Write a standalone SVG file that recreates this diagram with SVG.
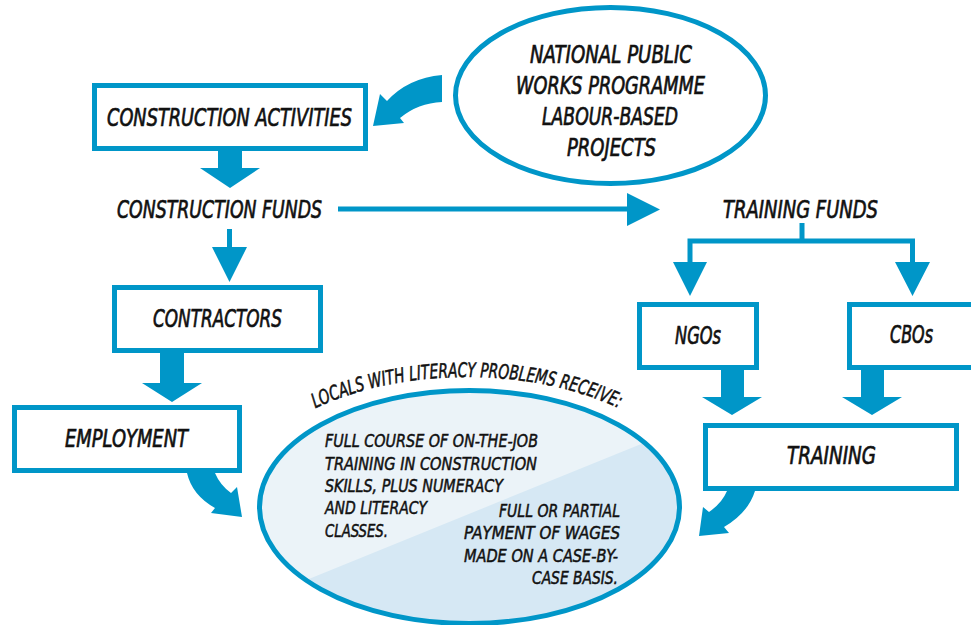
<svg xmlns="http://www.w3.org/2000/svg" width="971" height="625" viewBox="0 0 971 625">
<style>
.box{fill:#fff;stroke:#0096C8;stroke-width:5}
.ell{stroke:#0096C8;stroke-width:5}
.blue{fill:#0096C8}
.t{font-family:"Liberation Sans Narrow","DejaVu Sans Condensed","Liberation Sans",sans-serif;font-style:italic;fill:#111;stroke:#111;stroke-width:0.7;font-size:25px}
.s{font-size:18.5px;stroke-width:0.5}
.a{font-size:20px;stroke-width:0.5}
</style>
<defs>
<clipPath id="ec"><ellipse cx="469.5" cy="507" rx="210" ry="116.5"/></clipPath>
<path id="arc" d="M234,507 A233,130 0 0 1 700,507"/>
</defs>
<rect width="971" height="625" fill="#fff"/>

<g id="connectors">
  <polygon class="blue" points="218,151 242,151 242,168 260,168 230,188 200,168 218,168"/>
  <polygon class="blue" points="227,229 232,229 232,247 247,247 229.5,282 212,247 227,247"/>
  <polygon class="blue" points="160,353 184,353 184,383 202,383 172,402 142,383 160,383"/>
  <polygon class="blue" points="338,206.5 627,206.5 627,193 660,209.5 627,226 627,211.5 338,211.5"/>
  <polygon class="blue" points="799.5,223 804.5,223 804.5,238.5 915,238.5 915,262 930,262 912.5,296 895,262 910,262 910,243.5 692.5,243.5 692.5,262 707,262 690,296 673,262 687.5,262 687.5,238.5 799.5,238.5"/>
  <polygon class="blue" points="721,370 744,370 744,397 762,397 732,415 702,397 721,397"/>
  <polygon class="blue" points="861,370 884,370 884,397 902,397 872,415 842,397 861,397"/>
  <path class="blue" d="M442,75 L442,102 Q418,103 400,118 L404,123 L373,126 L380,94 L387,101 Q408,78 442,75 Z"/>
  <path class="blue" d="M187,473 Q192,495 215,508 L211,513 L242,517 L237,487 L231,493 Q220,485 215,473 Z"/>
  <path class="blue" d="M727,491 Q722,503 709,512 L703,507 L699,536 L729,533 L724,527 Q748,513 755,491 Z"/>
</g>

<g id="npwp">
  <ellipse class="ell" cx="610.5" cy="95.5" rx="155" ry="88" fill="#fff"/>
  <text class="t" x="530" y="63" textLength="162" lengthAdjust="spacingAndGlyphs">NATIONAL PUBLIC</text>
  <text class="t" x="516" y="94" textLength="189" lengthAdjust="spacingAndGlyphs">WORKS PROGRAMME</text>
  <text class="t" x="542" y="125" textLength="136" lengthAdjust="spacingAndGlyphs">LABOUR-BASED</text>
  <text class="t" x="567" y="156" textLength="89" lengthAdjust="spacingAndGlyphs">PROJECTS</text>
</g>

<g id="construction-activities">
  <rect class="box" x="94.5" y="85.5" width="271" height="63"/>
  <text class="t" x="107" y="126" textLength="245" lengthAdjust="spacingAndGlyphs">CONSTRUCTION ACTIVITIES</text>
</g>

<g id="construction-funds">
  <text class="t" x="117" y="218" textLength="205" lengthAdjust="spacingAndGlyphs">CONSTRUCTION FUNDS</text>
</g>

<g id="contractors">
  <rect class="box" x="114.5" y="287.5" width="206" height="63"/>
  <text class="t" x="153" y="327" textLength="129" lengthAdjust="spacingAndGlyphs">CONTRACTORS</text>
</g>

<g id="employment">
  <rect class="box" x="14.5" y="407.5" width="225" height="63"/>
  <text class="t" x="65" y="447" textLength="123" lengthAdjust="spacingAndGlyphs">EMPLOYMENT</text>
</g>

<g id="training-funds">
  <text class="t" x="723" y="218" textLength="155" lengthAdjust="spacingAndGlyphs">TRAINING FUNDS</text>
</g>

<g id="ngos">
  <rect class="box" x="639.5" y="304.5" width="117" height="63"/>
  <text class="t" x="675" y="344" textLength="46" lengthAdjust="spacingAndGlyphs">NGOs</text>
</g>

<g id="cbos">
  <rect class="box" x="849.5" y="304.5" width="140" height="63"/>
  <text class="t" x="890" y="343" textLength="43" lengthAdjust="spacingAndGlyphs">CBOs</text>
</g>

<g id="training">
  <rect class="box" x="705.5" y="425.5" width="251" height="63"/>
  <text class="t" x="787" y="464" textLength="89" lengthAdjust="spacingAndGlyphs">TRAINING</text>
</g>

<g id="locals">
  <g clip-path="url(#ec)">
    <rect x="250" y="380" width="450" height="250" fill="#EBF3F8"/>
    <polygon points="250,603 700,420 700,630 250,630" fill="#D6E8F4"/>
  </g>
  <ellipse class="ell" cx="469.5" cy="507" rx="210" ry="116.5" fill="none"/>
  <text class="t a"><textPath href="#arc" startOffset="50%" text-anchor="middle" textLength="312" lengthAdjust="spacingAndGlyphs">LOCALS WITH LITERACY PROBLEMS RECEIVE:</textPath></text>
  <text class="t s" x="325" y="447" textLength="213" lengthAdjust="spacingAndGlyphs">FULL COURSE OF ON-THE-JOB</text>
  <text class="t s" x="325" y="470" textLength="212" lengthAdjust="spacingAndGlyphs">TRAINING IN CONSTRUCTION</text>
  <text class="t s" x="325" y="492" textLength="178" lengthAdjust="spacingAndGlyphs">SKILLS, PLUS NUMERACY</text>
  <text class="t s" x="325" y="514" textLength="102" lengthAdjust="spacingAndGlyphs">AND LITERACY</text>
  <text class="t s" x="325" y="537" textLength="63" lengthAdjust="spacingAndGlyphs">CLASSES.</text>
  <text class="t s" x="499" y="517" textLength="121" lengthAdjust="spacingAndGlyphs">FULL OR PARTIAL</text>
  <text class="t s" x="464" y="539" textLength="156" lengthAdjust="spacingAndGlyphs">PAYMENT OF WAGES</text>
  <text class="t s" x="464" y="562" textLength="154" lengthAdjust="spacingAndGlyphs">MADE ON A CASE-BY-</text>
  <text class="t s" x="532" y="584" textLength="86" lengthAdjust="spacingAndGlyphs">CASE BASIS.</text>
</g>
</svg>
